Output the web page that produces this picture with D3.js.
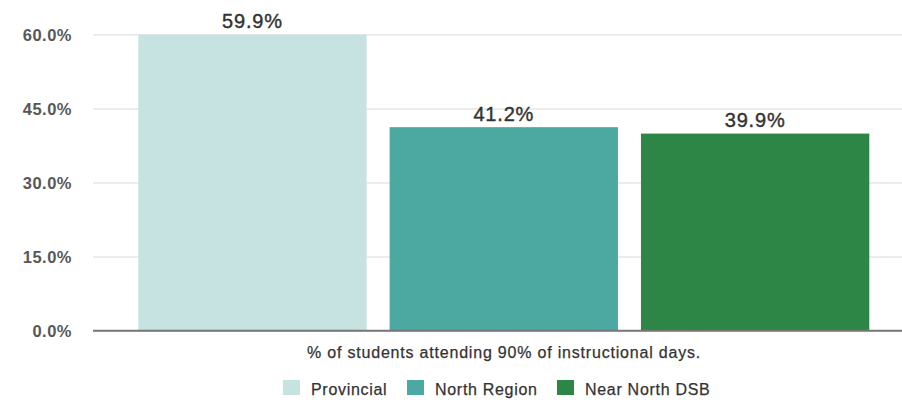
<!DOCTYPE html>
<html>
<head>
<meta charset="utf-8">
<script src="https://cdn.jsdelivr.net/npm/d3@7"></script>
<style>
  html, body { margin: 0; padding: 0; background: #fff; }
  svg { display: block; font-family: "Liberation Sans", Arial, Helvetica, sans-serif; }
</style>
</head>
<body>
<svg id="chart" width="902" height="400"></svg>
<script>
// Attendance data
const categories = ["Provincial", "North Region", "Near North DSB"];
const values = [59.9, 41.2, 39.9];
const colors = ["#c6e3e1", "#4ba9a1", "#2d8646"];
const yTicks = [0, 15, 30, 45, 60];
const axisTitle = "% of students attending 90% of instructional days.";

const svg = d3.select("#chart");
const plotLeft = 93, plotRight = 902;

const y = d3.scaleLinear().domain([0, 60]).range([330.7, 34.3]);
const x = d3.scaleBand().domain(categories).range([115.3, 892.3])
  .paddingInner(0.0915).paddingOuter(0.0915);

// Gridlines and tick labels
const yAxis = d3.axisLeft(y).tickValues(yTicks)
  .tickFormat(d => d3.format(".1f")(d) + "%")
  .tickSize(-(plotRight - plotLeft)).tickPadding(21);
const gy = svg.append("g").attr("transform", `translate(${plotLeft},0)`).call(yAxis);
gy.select(".domain").remove();
gy.selectAll(".tick line").attr("stroke", "#e6e6e6").attr("stroke-width", 1.5);
gy.selectAll(".tick text").attr("fill", "#3a3a3a").attr("font-size", 16.5)
  .attr("font-weight", "bold").attr("letter-spacing", 0.5)
  .attr("dy", "0.36em").attr("opacity", 0.85);

// Bars
svg.append("g").selectAll("rect").data(categories).join("rect")
  .attr("x", d => x(d))
  .attr("y", (d, i) => y(values[i]))
  .attr("width", x.bandwidth())
  .attr("height", (d, i) => y(0) - y(values[i]))
  .attr("fill", (d, i) => colors[i]);

// Value labels
svg.append("g").selectAll("text").data(categories).join("text")
  .attr("x", d => x(d) + x.bandwidth() / 2)
  .attr("y", (d, i) => y(values[i]) - 6.5)
  .attr("text-anchor", "middle")
  .attr("font-size", 20)
  .attr("letter-spacing", 0.8)
  .attr("fill", "#333").attr("stroke", "#333").attr("stroke-width", 0.4)
  .text((d, i) => d3.format(".1f")(values[i]) + "%");

// Baseline
svg.append("line")
  .attr("x1", plotLeft).attr("x2", plotRight)
  .attr("y1", y(0)).attr("y2", y(0))
  .attr("stroke", "#777").attr("stroke-width", 2);

// Axis title
svg.append("text")
  .attr("x", 504).attr("y", 357.5)
  .attr("text-anchor", "middle")
  .attr("font-size", 16)
  .attr("letter-spacing", 0.8)
  .attr("fill", "#333").attr("stroke", "#333").attr("stroke-width", 0.25)
  .text(axisTitle);

// Legend
const legendX = [283, 407, 557];
const lg = svg.append("g").selectAll("g").data(categories).join("g")
  .attr("transform", (d, i) => `translate(${legendX[i]},380)`);
lg.append("rect").attr("width", 17).attr("height", 15)
  .attr("fill", (d, i) => colors[i]);
lg.append("text").attr("x", 28).attr("y", 14.5)
  .attr("font-size", 16).attr("letter-spacing", 0.7)
  .attr("fill", "#333").attr("stroke", "#333").attr("stroke-width", 0.25)
  .text(d => d);
</script>
</body>
</html>
